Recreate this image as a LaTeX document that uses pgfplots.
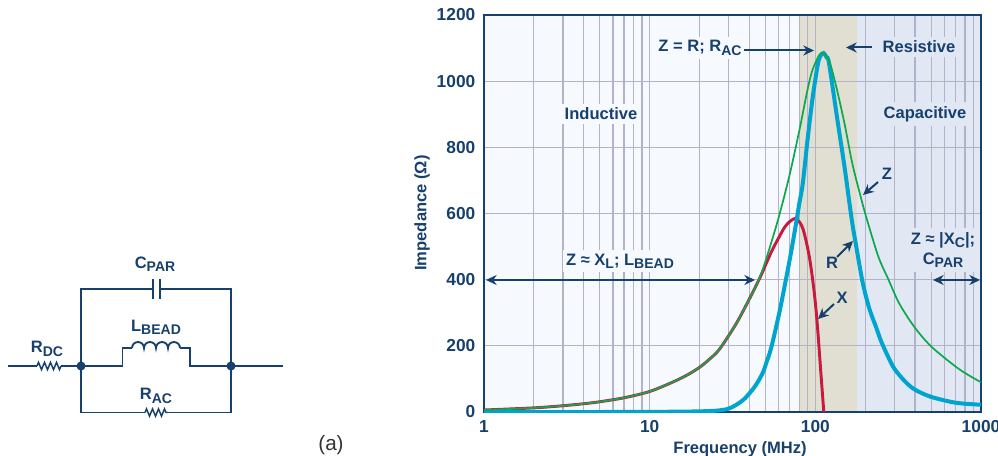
\documentclass[border=0pt]{standalone}
\usepackage{pgfplots}
\pgfplotsset{compat=1.18}
\usepackage{fontspec}
\setmainfont{Liberation Sans}
\usetikzlibrary{arrows.meta,decorations.pathmorphing}
\definecolor{adi}{HTML}{17406D}
\definecolor{gridc}{HTML}{B2B2C8}
\definecolor{indc}{HTML}{F6FAFE}
\definecolor{resc}{HTML}{E0DFD2}
\definecolor{capc}{HTML}{E1E8F4}
\definecolor{zc}{HTML}{10A84F}
\definecolor{xc}{HTML}{C8193F}
\definecolor{rc}{HTML}{00A5CF}
\newcommand\sub[1]{\raisebox{-0.38ex}{\fontsize{10.5}{11}\selectfont #1}}
\pgfplotstableread{
f v
1 6
2 12.5
3 19
4 25
5 31
7 43
10 62
14 92
17 113
20 135
23 160
26.4 190
33.2 266
40 342
46.5 410
52.9 495
60.6 595
69.8 715
80 850
89.6 973
96 1033
105.6 1079
112 1085
121 1063
133 988
150 872
167 752
188 650
204 585
240 470
277 399
321 328
395 258
498 199
704 137
850 110
1000 90
}\tblZ
\pgfplotstableread{
f v
1 6
2 12.5
3 19
4 25
5 31
7 43
10 62
14 92
17 113
20 135
23 160
26.4 190
33.2 266
40 342
46.5 408
50.5 449
55 490
60.6 530
65 557
69.8 575
76.5 584
84 555
92 469
98.6 359
103 258
108 118
112.5 0
}\tblX
\pgfplotstableread{
f v
1 0
5 0
10 0.5
15 1
20 2
25.2 4
30.3 11
36.6 36
43 76
48 117
50.7 150
54.2 195
60.6 300
66.7 405
71.5 485
76.5 570
80 630
84 691
89.6 820
96 945
103 1045
107 1075
112 1085
117 1072
121 1053
136 882
150 741
165.5 585
176.6 500
192.8 393
211 315
232 258
249 215
272 172
299 132
344 95
395 69
498 46
704 28
1000 22
}\tblR
\begin{document}
\begin{tikzpicture}[font=\fontsize{12.4}{14}\selectfont\bfseries]
\useasboundingbox (0pt,0pt) rectangle (748.5pt,-342pt);
\begin{axis}[at={(363pt,-309pt)},anchor=south west,scale only axis,width=372.75pt,height=297.75pt,
 xmode=log,xmin=1,xmax=1000,ymin=0,ymax=1200,hide axis]
\addplot[fill=indc,draw=none] coordinates {(1,0)(80,0)(80,1200)(1,1200)(1,0)};
\addplot[fill=resc,draw=none] coordinates {(80,0)(179,0)(179,1200)(80,1200)(80,0)};
\addplot[fill=capc,draw=none] coordinates {(179,0)(1000,0)(1000,1200)(179,1200)(179,0)};
\end{axis}
\begin{axis}[at={(363pt,-309pt)},anchor=south west,scale only axis,width=372.75pt,height=297.75pt,
 xmode=log,xmin=1,xmax=1000,ymin=0,ymax=1200,
 grid=both,major tick length=0pt,minor tick length=0pt,
 grid style={gridc,line width=0.9pt},minor grid style={gridc,line width=0.9pt},
 axis line style={adi,line width=1.5pt},
 xtick={1,10,100,1000},xticklabels={1,10,100,1000},
 ytick={0,200,400,600,800,1000,1200},yticklabels={0,200,400,600,800,1000,1200},
 tick label style={text=adi,font=\fontsize{13}{15}\selectfont\bfseries},
 xticklabel style={yshift=-3pt},
 yticklabel style={xshift=-3pt}]
\addplot[xc,line width=2.2pt,smooth,tension=0.5] table[x=f,y=v]{\tblX};
\addplot[rc,line width=3pt,smooth,tension=0.5] table[x=f,y=v]{\tblR};
\addplot[zc,line width=1.3pt,smooth,tension=0.5] table[x=f,y=v]{\tblZ};
\end{axis}
\begin{scope}[x=0.75pt,y=-0.75pt,
 wire/.style={adi,line width=1.4pt},
 res/.style={adi,line width=1.1pt,decorate,decoration={zigzag,segment length=4.5pt,amplitude=2.7pt}},
 lab/.style={text=adi,inner xsep=2pt,inner ysep=3pt,align=center},
 arr/.style={adi,line width=1.5pt,-{Stealth[length=8pt,width=7.5pt]}},
 arrb/.style={adi,line width=1.5pt,{Stealth[length=8pt,width=7.5pt]}-{Stealth[length=8pt,width=7.5pt]}}]
% axis titles
\node[lab,rotate=90] at (422,213) {Impedance (Ω)};
\node[lab] at (740,449) {Frequency (MHz)};
% annotations
\node[lab,fill=indc] at (601,114) {Inductive};
\node[lab,fill=capc] at (925,114) {Capacitive};
\node[lab,fill=capc] at (919,47) {Resistive};
\node[lab,fill=indc] at (700,48) {Z = R; R\sub{AC}};
\draw[arr] (744,50.5) -- (814,50.5);
\draw[arr] (872,47.5) -- (846,47.5);
\node[lab] at (887,174) {Z};
\draw[arr] (878,182) -- (863,195);
\node[lab] at (832,263) {R};
\draw[arr] (837,257) -- (853,241);
\node[lab] at (842,298) {X};
\draw[arr] (834,304) -- (818,319);
\node[lab,fill=indc] at (620,261) {Z ≈ X\sub{L}; L\sub{BEAD}};
\draw[arrb] (486,280) -- (755,280);
\node[lab,fill=capc] at (943,250) {Z ≈ |X\sub{C}|;\\[1pt]C\sub{PAR}};
\draw[arrb] (933,280) -- (980,280);
% circuit
\draw[wire] (8,366) -- (37,366);
\draw[res] (37,366) -- (61,366);
\draw[wire] (61,366) -- (81,366);
\draw[wire] (81,366) -- (81,412.5) -- (145,412.5);
\draw[res] (145,412.5) -- (168,412.5);
\draw[wire] (168,412.5) -- (231,412.5) -- (231,289) -- (160,289);
\draw[wire] (153,289) -- (81,289) -- (81,366);
\draw[wire] (153,279) -- (153,299);
\draw[wire] (160,279) -- (160,299);
\draw[wire] (81,366) -- (122.5,366) -- (122.5,348) -- (132,348);
\draw[wire] (132,348) arc[start angle=180,end angle=0,radius=4.5pt]
 arc[start angle=180,end angle=0,radius=4.5pt]
 arc[start angle=180,end angle=0,radius=4.5pt]
 arc[start angle=180,end angle=0,radius=4.5pt];
\draw[wire] (180,348) -- (190,348) -- (190,366) -- (283,366);
\fill[adi] (81,366) circle[radius=3.4pt] (231,366) circle[radius=3.4pt];
\node[lab] at (155,264) {C\sub{PAR}};
\node[lab] at (156,327) {L\sub{BEAD}};
\node[lab] at (47,349) {R\sub{DC}};
\node[lab] at (156,396) {R\sub{AC}};
\node[text=black!80,font=\fontsize{15.5}{17}\selectfont] at (331,445) {(a)};
\end{scope}
\end{tikzpicture}
\end{document}
